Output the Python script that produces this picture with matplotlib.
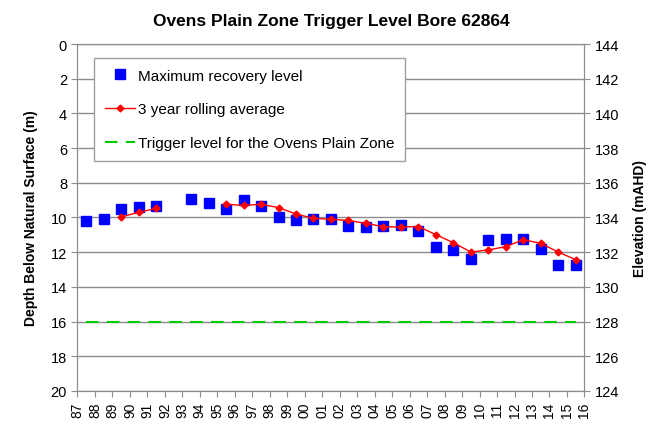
import numpy as np
import matplotlib
matplotlib.use('Agg')
import matplotlib.pyplot as plt

plt.rcParams['font.family'] = ['Liberation Sans', 'DejaVu Sans']

# Years with a recorded maximum recovery level (no reading in 1992)
years = [1987, 1988, 1989, 1990, 1991, 1993, 1994, 1995, 1996, 1997,
         1998, 1999, 2000, 2001, 2002, 2003, 2004, 2005, 2006, 2007,
         2008, 2009, 2010, 2011, 2012, 2013, 2014, 2015]

# Maximum recovery level, depth below natural surface (m)
max_level = [10.2, 10.1, 9.53, 9.41, 9.36, 8.95, 9.16, 9.53, 9.0, 9.36,
             9.99, 10.12, 10.1, 10.1, 10.5, 10.57, 10.51, 10.45, 10.8, 11.72,
             11.89, 12.41, 11.3, 11.24, 11.24, 11.82, 12.76, 12.74]

# 3 year rolling average (nan where there are not three years of data)
rolling_avg = [np.nan, np.nan, 9.97, 9.7, 9.48, np.nan, np.nan, 9.24, 9.3, 9.24,
               9.43, 9.8, 10.05, 10.1, 10.17, 10.34, 10.53, 10.55, 10.52, 10.99,
               11.45, 11.99, 11.87, 11.68, 11.28, 11.49, 11.99, 12.43]

trigger_level = 16.0
tick_years = list(range(1987, 2017))
tick_labels = ['%02d' % (y % 100) for y in tick_years]

# readings are taken mid-year
x = np.array(years) + 0.5

fig = plt.figure(figsize=(6.55, 4.27), dpi=100)
ax = fig.add_axes([0.1183, 0.0820, 0.774, 0.8126])

grid_col = '#8c8c8c'
ax.set_ylim(20, 0)
ax.set_xlim(tick_years[0], tick_years[-1])
ax.set_yticks(np.arange(0, 21, 2))
ax.yaxis.grid(True, color=grid_col, lw=1.0)
ax.set_axisbelow(True)

ax.plot(x, max_level, 's', color='#0000FF', markersize=7.8, lw=0,
        label='Maximum recovery level', zorder=3)
ax.plot(x, rolling_avg, '-D', color='#FF0000', markersize=3.5, lw=1.0,
        label='3 year rolling average', zorder=4)
ax.plot([x[0], x[-1]], [trigger_level, trigger_level], '--', color='#00CC00',
        lw=1.5, dashes=(6, 4), label='Trigger level for the Ovens Plain Zone',
        zorder=2)

ax.set_xticks(tick_years)
ax.set_xticklabels(tick_labels, rotation=90, fontsize=10)
ax.tick_params(axis='y', labelsize=10.5, color=grid_col, length=4)
ax.tick_params(axis='x', color=grid_col, length=4)
for s in ax.spines.values():
    s.set_color(grid_col)

ax.set_ylabel('Depth Below Natural Surface (m)', fontsize=10, fontweight='bold',
              labelpad=9)

ax2 = ax.twinx()
ax2.set_ylim(124, 144)
ax2.set_yticks(np.arange(124, 145, 2))
ax2.tick_params(axis='y', labelsize=10.5, color=grid_col, length=4)
for s in ax2.spines.values():
    s.set_color(grid_col)
ax2.set_ylabel('Elevation (mAHD)', fontsize=10, fontweight='bold', labelpad=10)

ax.set_title('Ovens Plain Zone Trigger Level Bore 62864', fontsize=12.5,
             fontweight='bold', pad=14)

leg = ax.legend(loc='upper left', bbox_to_anchor=(0.0325, 0.96), borderaxespad=0,
                fontsize=11, labelspacing=1.3, handlelength=2.0,
                handletextpad=0.2, borderpad=0.7, fancybox=False,
                edgecolor='#a0a0a0', framealpha=1)
leg.get_frame().set_linewidth(1.0)

fig.savefig('out.png', dpi=100)
